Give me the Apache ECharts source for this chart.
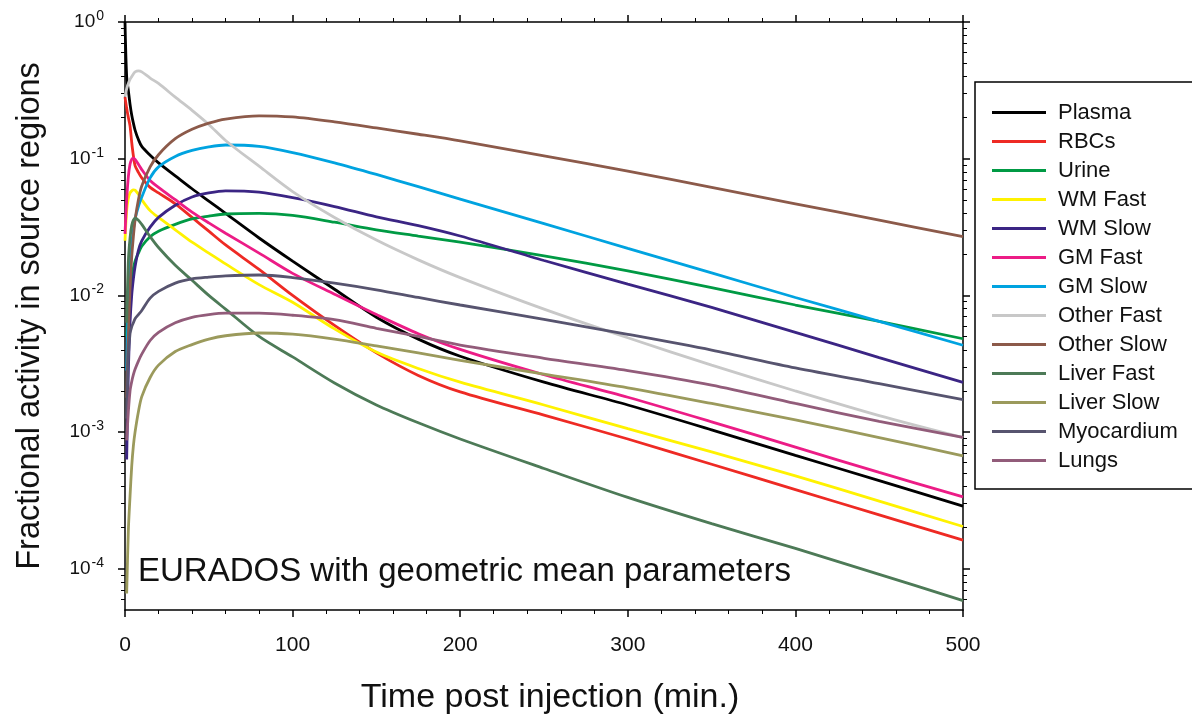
<!DOCTYPE html>
<html>
<head>
<meta charset="utf-8">
<script src="https://cdn.jsdelivr.net/npm/echarts@6/dist/echarts.min.js"></script>
<style>
html,body{margin:0;padding:0;background:#ffffff;}
#chart{width:1192px;height:715px;}
</style>
</head>
<body>
<div id="chart"></div>
<script>
// ---- data ----
const timesFromZero = [0,1,2,3,4,5,6,8,10,15,20,30,40,50,60,80,100,125,150,175,200,250,300,350,400,450,500];
const timesFromOne  = [1,2,3,4,5,6,8,10,15,20,30,40,50,60,80,100,125,150,175,200,250,300,350,400,450,500];

const plasma    = [1,0.398,0.316,0.251,0.209,0.182,0.162,0.138,0.123,0.106,0.0933,0.075,0.0603,0.049,0.0398,0.0263,0.0178,0.0111,0.00692,0.00479,0.00359,0.00232,0.00158,0.00104,0.000676,0.000442,0.000288];
const rbcs      = [0.282,0.234,0.2,0.174,0.132,0.105,0.0891,0.0794,0.0724,0.0617,0.0562,0.0468,0.0372,0.0295,0.0234,0.0155,0.01,0.00603,0.0038,0.0026,0.00197,0.00133,0.000891,0.000582,0.00038,0.000248,0.000162];
const urine     = [0.00501,0.00794,0.0105,0.0132,0.0158,0.0178,0.0204,0.0229,0.0269,0.0295,0.0331,0.0363,0.038,0.0394,0.0398,0.0385,0.0343,0.0302,0.0272,0.0245,0.0195,0.0151,0.0114,0.00851,0.00646,0.00482];
const wmFast    = [0.0251,0.0417,0.0513,0.0562,0.0582,0.0592,0.0589,0.055,0.0501,0.0417,0.0372,0.0302,0.0245,0.0204,0.017,0.012,0.00891,0.00569,0.00385,0.00292,0.00232,0.00158,0.00106,0.000716,0.000479,0.000313,0.000204];
const wmSlow    = [0.000631,0.00282,0.00631,0.01,0.0132,0.0162,0.0214,0.0251,0.0316,0.0372,0.0457,0.0525,0.0562,0.0582,0.0569,0.0519,0.0447,0.0376,0.0324,0.0272,0.018,0.0121,0.00817,0.00537,0.00351,0.00231];
const gmFast    = [0.0282,0.0501,0.0741,0.0912,0.0989,0.101,0.0989,0.0912,0.0832,0.0692,0.0617,0.0501,0.0407,0.0339,0.0285,0.0204,0.0145,0.0102,0.00724,0.00525,0.00403,0.00263,0.0018,0.00119,0.000776,0.000507,0.000336];
const gmSlow    = [0.00282,0.00891,0.0158,0.0234,0.0302,0.0363,0.0447,0.0525,0.0724,0.0871,0.104,0.115,0.122,0.126,0.123,0.111,0.0933,0.0767,0.0624,0.0507,0.0335,0.0221,0.0146,0.00966,0.00646,0.00432];
const otherFast = [0.284,0.324,0.355,0.38,0.398,0.417,0.432,0.439,0.432,0.389,0.355,0.282,0.226,0.178,0.136,0.0881,0.0575,0.0372,0.0254,0.0182,0.0135,0.00794,0.0049,0.00309,0.002,0.00132,0.000912];
const otherSlow = [0.00178,0.00501,0.0112,0.0191,0.0269,0.0355,0.0501,0.0631,0.0871,0.107,0.14,0.164,0.182,0.195,0.206,0.202,0.186,0.168,0.151,0.135,0.105,0.0813,0.0617,0.0468,0.0355,0.0269];
const liverFast = [0.00631,0.0178,0.0263,0.0324,0.0355,0.0367,0.0355,0.0331,0.0269,0.0224,0.0166,0.0129,0.01,0.00794,0.00501,0.00355,0.00229,0.00158,0.00117,0.000891,0.000542,0.000333,0.000214,0.000141,0.0000912,0.0000586];
const liverSlow = [0.0000661,0.000191,0.000339,0.000562,0.000794,0.001,0.00141,0.00182,0.00251,0.00309,0.00389,0.00437,0.00479,0.00507,0.00531,0.00521,0.00479,0.00427,0.0038,0.00335,0.00266,0.00211,0.00162,0.00123,0.000912,0.000671];
const myocardium= [0.00126,0.00355,0.00525,0.00589,0.00631,0.00676,0.00724,0.00776,0.00955,0.0107,0.0123,0.0132,0.0136,0.0139,0.0141,0.0135,0.0123,0.011,0.00966,0.00851,0.00668,0.00519,0.00398,0.00295,0.00226,0.00173];
const lungs     = [0.000871,0.00141,0.002,0.00234,0.00263,0.00288,0.00331,0.00372,0.00468,0.00537,0.00631,0.00692,0.00724,0.00741,0.00741,0.00716,0.00665,0.00575,0.00501,0.00433,0.00347,0.00282,0.00221,0.00162,0.0012,0.000914];

const seriesNames = ['Plasma','RBCs','Urine','WM Fast','WM Slow','GM Fast','GM Slow','Other Fast','Other Slow','Liver Fast','Liver Slow','Myocardium','Lungs'];
const seriesValues = [plasma,rbcs,urine,wmFast,wmSlow,gmFast,gmSlow,otherFast,otherSlow,liverFast,liverSlow,myocardium,lungs];
const seriesTimes = [timesFromZero,timesFromZero,timesFromOne,timesFromZero,timesFromOne,timesFromZero,timesFromOne,timesFromZero,timesFromOne,timesFromOne,timesFromOne,timesFromOne,timesFromOne];

const xTicks = [0,100,200,300,400,500];
const yMajorTicks = [1e-4,1e-3,1e-2,1e-1,1];
const yMinorTicks = [6e-5,7e-5,8e-5,9e-5,
  2e-4,3e-4,4e-4,5e-4,6e-4,7e-4,8e-4,9e-4,
  2e-3,3e-3,4e-3,5e-3,6e-3,7e-3,8e-3,9e-3,
  2e-2,3e-2,4e-2,5e-2,6e-2,7e-2,8e-2,9e-2,
  0.2,0.3,0.4,0.5,0.6,0.7,0.8,0.9];

// ---- styles ----
const colors = ['#000000','#ee2a24','#009a44','#fff200','#3b2584','#ec1c86','#00a3e0','#c8c8c8','#8c5a4a','#4d7a57','#9b9a5c','#57546f','#925c7a'];
const FONT = '"Liberation Sans", Arial, Helvetica, sans-serif';

const chart = echarts.init(document.getElementById('chart'), null, {renderer:'canvas'});

const series = seriesNames.map((name, i) => ({
  name: name,
  type: 'line',
  xAxisIndex: 0,
  yAxisIndex: 0,
  data: seriesTimes[i].map((t, j) => [t, seriesValues[i][j]]),
  showSymbol: false,
  symbol: 'none',
  smooth: 0.3,
  lineStyle: {width: 2.8, color: colors[i]},
  itemStyle: {color: colors[i]},
  z: 2
}));

const axisLineStyle = {color:'#000', width:1.5};

const yLabelFormatter = function (v) {
  const e = Math.round(Math.log10(v));
  return '{b|10}{s|' + e + '}';
};

const option = {
  backgroundColor: '#ffffff',
  animation: false,
  textStyle: {fontFamily: FONT},
  title: {
    text: 'EURADOS with geometric mean parameters',
    left: 138, top: 555, padding: 0,
    textStyle: {fontSize: 33, fontWeight: 'normal', color: '#111', fontFamily: FONT}
  },
  grid: {left: 125, right: 229, top: 22, bottom: 105, containLabel: false, outerBoundsMode: 'none'},
  legend: {
    data: seriesNames,
    orient: 'vertical',
    left: 975, top: 82,
    padding: [19, 70, 17, 17],
    itemGap: 6,
    itemWidth: 54, itemHeight: 3,
    icon: 'rect',
    borderColor: '#000', borderWidth: 1.5,
    textStyle: {fontSize: 22, color: '#111', fontFamily: FONT, lineHeight: 23, padding: [0,0,0,7]}
  },
  xAxis: [
    {
      type: 'value', position: 'bottom', min: 0, max: 500, interval: 100,
      axisLine: {show: true, onZero: false, lineStyle: axisLineStyle},
      axisTick: {show: true, length: 7, lineStyle: {color:'#000', width:1.5}},
      minorTick: {show: true, splitNumber: 5, length: 4, lineStyle: {color:'#000', width:1}},
      axisLabel: {show: true, fontSize: 21, color: '#111', margin: 25, fontFamily: FONT,
                  customValues: xTicks},
      splitLine: {show: false}, minorSplitLine: {show: false},
      name: 'Time post injection (min.)', nameLocation: 'middle', nameGap: 71,
      nameTextStyle: {fontSize: 34, color: '#111', fontFamily: FONT, padding: [0,0,0,12]}
    },
    {
      type: 'value', position: 'top', min: 0, max: 500, interval: 100,
      axisLine: {show: true, onZero: false, lineStyle: axisLineStyle},
      axisTick: {show: true, length: 7, lineStyle: {color:'#000', width:1.5}},
      minorTick: {show: true, splitNumber: 5, length: 4, lineStyle: {color:'#000', width:1}},
      axisLabel: {show: false},
      splitLine: {show: false}
    }
  ],
  yAxis: [
    {
      type: 'log', logBase: 10, position: 'left', min: 5e-5, max: 1,
      axisLine: {show: true, onZero: false, lineStyle: axisLineStyle},
      axisTick: {show: true, length: 7, customValues: yMajorTicks, lineStyle: {color:'#000', width:1.5}},
      axisLabel: {show: true, margin: 21, customValues: yMajorTicks, formatter: yLabelFormatter,
        rich: {
          b: {fontSize: 19, color: '#111', fontFamily: FONT},
          s: {fontSize: 14, color: '#111', fontFamily: FONT, padding: [0,0,12,1]}
        }},
      splitLine: {show: false},
      name: 'Fractional activity in source regions', nameLocation: 'middle', nameGap: 78,
      nameTextStyle: {fontSize: 32.5, color: '#111', fontFamily: FONT}
    },
    {
      type: 'log', logBase: 10, position: 'left', min: 5e-5, max: 1,
      axisLine: {show: false, onZero: false},
      axisTick: {show: true, length: 4, customValues: yMinorTicks, lineStyle: {color:'#000', width:1}},
      axisLabel: {show: false},
      splitLine: {show: false}
    },
    {
      type: 'log', logBase: 10, position: 'right', min: 5e-5, max: 1,
      axisLine: {show: true, onZero: false, lineStyle: axisLineStyle},
      axisTick: {show: true, length: 7, customValues: yMajorTicks, lineStyle: {color:'#000', width:1.5}},
      axisLabel: {show: false},
      splitLine: {show: false}
    },
    {
      type: 'log', logBase: 10, position: 'right', min: 5e-5, max: 1,
      axisLine: {show: false, onZero: false},
      axisTick: {show: true, length: 4, customValues: yMinorTicks, lineStyle: {color:'#000', width:1}},
      axisLabel: {show: false},
      splitLine: {show: false}
    }
  ],
  series: series
};

chart.setOption(option);
</script>
</body>
</html>
